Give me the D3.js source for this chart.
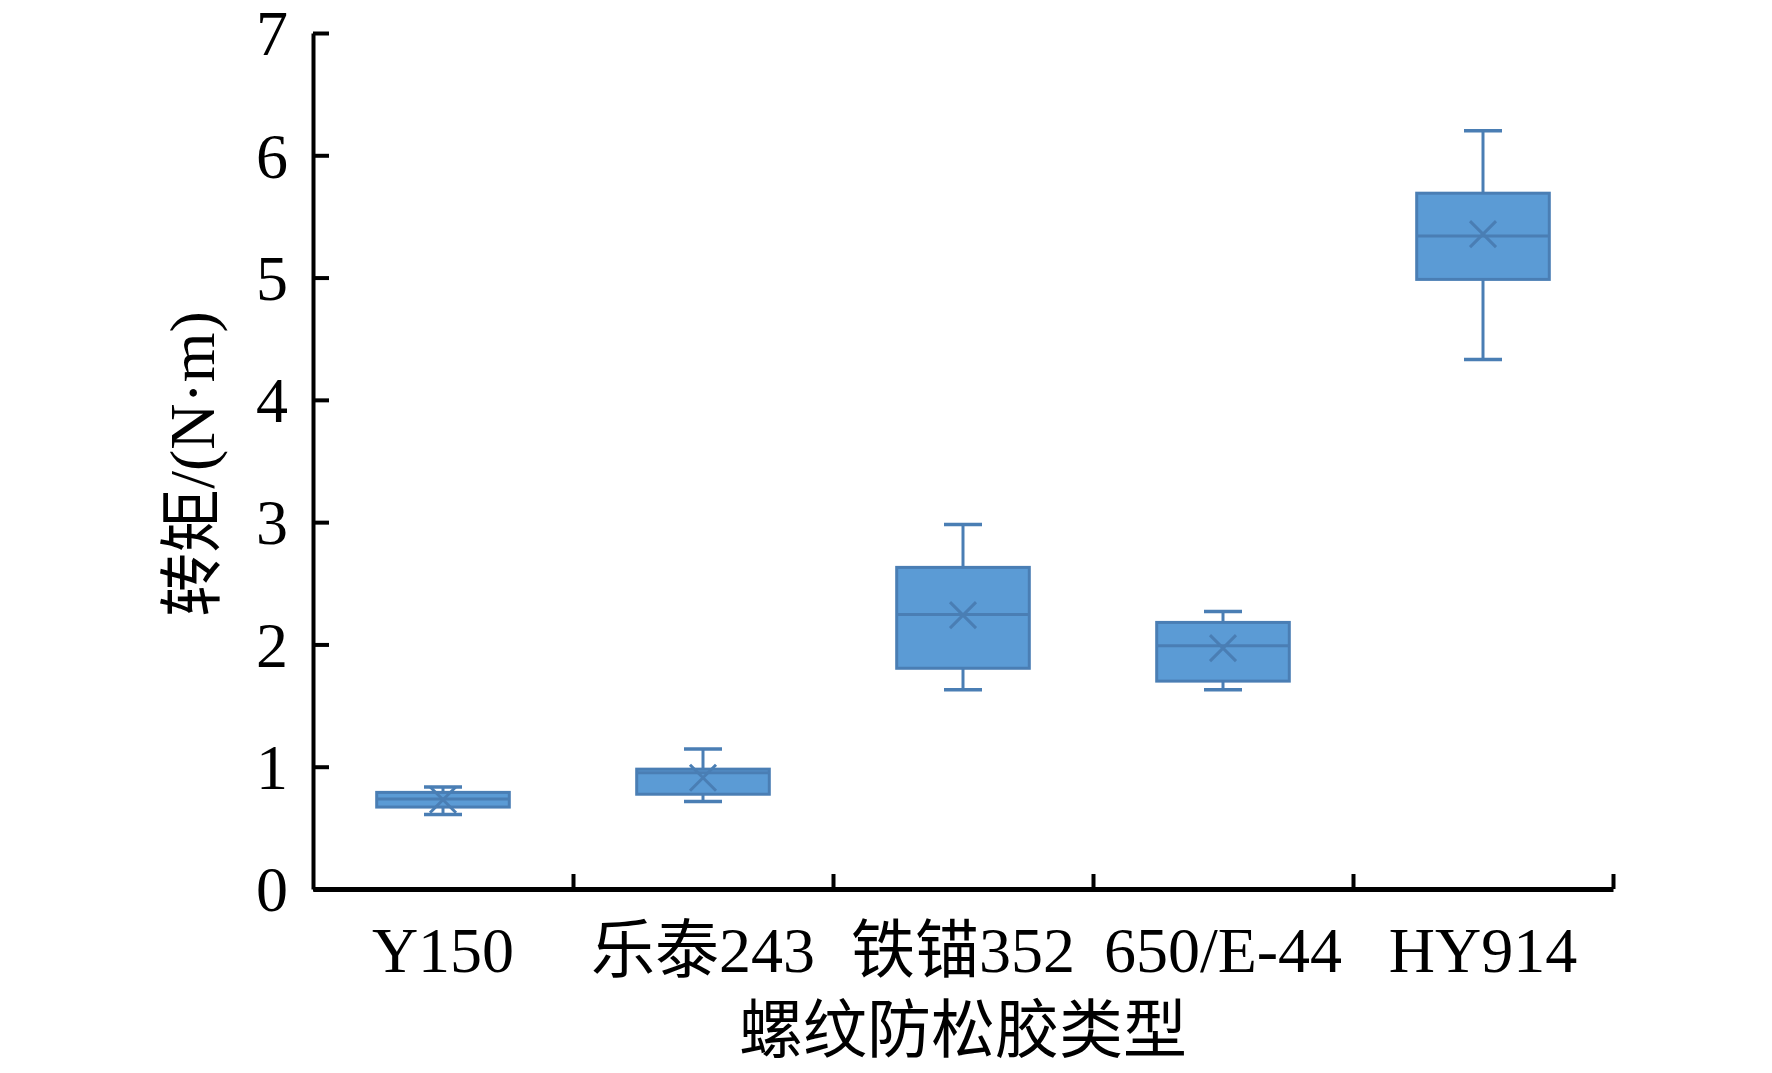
<!DOCTYPE html>
<html>
<head>
<meta charset="utf-8">
<script src="https://cdn.jsdelivr.net/npm/d3@7"></script>
<style>
  body { margin: 0; background: #fff; }
  text { font-family: "Liberation Serif", "Times New Roman", "Noto Sans CJK SC", serif; fill: #000; }
</style>
</head>
<body>
<div id="chart"></div>
<script>
// Values (N·m)
const categories = ["Y150", "乐泰243", "铁锚352", "650/E-44", "HY914"];
const whiskerLow = [0.61, 0.715, 1.63, 1.63, 4.33];
const q1 = [0.67, 0.775, 1.805, 1.70, 4.985];
const median = [0.735, 0.95, 2.245, 1.99, 5.34];
const q3 = [0.79, 0.98, 2.63, 2.18, 5.69];
const whiskerHigh = [0.835, 1.145, 2.98, 2.27, 6.2];
const mean = [0.73, 0.91, 2.24, 1.97, 5.355];
const yTicks = [0, 1, 2, 3, 4, 5, 6, 7];

const width = 1772;
const height = 1073;
const margin = { top: 33, right: 159, bottom: 184, left: 313 };

const boxes = categories.map((c, i) => ({
  name: c, lo: whiskerLow[i], q1: q1[i], med: median[i],
  q3: q3[i], hi: whiskerHigh[i], mean: mean[i]
}));

const svg = d3.select("#chart")
  .append("svg")
  .attr("width", width)
  .attr("height", height);

const x = d3.scaleBand()
  .domain(categories)
  .range([margin.left, width - margin.right]);

const y = d3.scaleLinear()
  .domain([0, 7])
  .range([height - margin.bottom, margin.top]);

const fill = "#5b9bd5";
const edge = "#4a7eb4";
const boxW = x.bandwidth() * 0.51;
const capW = 38;

// Boxes
const g = svg.append("g");
const box = g.selectAll("g.box")
  .data(boxes)
  .enter()
  .append("g")
  .attr("class", "box")
  .attr("transform", d => `translate(${x(d.name) + x.bandwidth() / 2},0)`);

// whiskers
box.append("line")
  .attr("x1", 0).attr("x2", 0)
  .attr("y1", d => y(d.hi)).attr("y2", d => y(d.q3))
  .attr("stroke", edge).attr("stroke-width", 3);
box.append("line")
  .attr("x1", 0).attr("x2", 0)
  .attr("y1", d => y(d.q1)).attr("y2", d => y(d.lo))
  .attr("stroke", edge).attr("stroke-width", 3);
box.append("line")
  .attr("x1", -capW / 2).attr("x2", capW / 2)
  .attr("y1", d => y(d.hi)).attr("y2", d => y(d.hi))
  .attr("stroke", edge).attr("stroke-width", 3.5);
box.append("line")
  .attr("x1", -capW / 2).attr("x2", capW / 2)
  .attr("y1", d => y(d.lo)).attr("y2", d => y(d.lo))
  .attr("stroke", edge).attr("stroke-width", 3.5);

// box body
box.append("rect")
  .attr("x", -boxW / 2)
  .attr("width", boxW)
  .attr("y", d => y(d.q3))
  .attr("height", d => y(d.q1) - y(d.q3))
  .attr("fill", fill)
  .attr("stroke", edge)
  .attr("stroke-width", 3);

// median
box.append("line")
  .attr("x1", -boxW / 2).attr("x2", boxW / 2)
  .attr("y1", d => y(d.med)).attr("y2", d => y(d.med))
  .attr("stroke", edge).attr("stroke-width", 3);

// mean marker (x)
const m = 13;
box.append("path")
  .attr("d", d => {
    const cy = y(d.mean);
    return `M${-m},${cy - m}L${m},${cy + m}M${-m},${cy + m}L${m},${cy - m}`;
  })
  .attr("stroke", edge)
  .attr("stroke-width", 3)
  .attr("fill", "none");

// Y axis
const yAxis = svg.append("g")
  .attr("transform", `translate(${margin.left},0)`)
  .call(d3.axisLeft(y).tickValues(yTicks).tickFormat(d3.format("d"))
    .tickSize(-16).tickSizeOuter(0).tickPadding(25));
yAxis.selectAll("line").attr("stroke", "#000").attr("stroke-width", 4);
yAxis.select(".domain").attr("stroke", "#000").attr("stroke-width", 4);
yAxis.selectAll("text").attr("font-size", "64px").attr("dy", "0.34em")
  .style("font-family", "'Liberation Serif', serif");

// X axis: ticks at band boundaries
const xb = d3.scaleLinear().domain([0, categories.length]).range(x.range());
const xAxis = svg.append("g")
  .attr("transform", `translate(0,${height - margin.bottom})`)
  .call(d3.axisBottom(xb).ticks(categories.length).tickSize(-15).tickSizeOuter(0).tickFormat(""));
xAxis.selectAll("line").attr("stroke", "#000").attr("stroke-width", 4);
xAxis.select(".domain").attr("stroke", "#000").attr("stroke-width", 5);
xAxis.selectAll(".tick").filter(d => d === 0).remove();

// Category labels
svg.append("g")
  .attr("transform", `translate(0,${height - margin.bottom})`)
  .call(d3.axisBottom(x).tickSize(0).tickPadding(0))
  .call(s => s.select(".domain").remove())
  .selectAll("text")
  .attr("font-size", "64px")
  .attr("dy", null)
  .attr("y", 83);

// Axis titles
svg.append("text")
  .attr("x", (margin.left + width - margin.right) / 2)
  .attr("y", 1052)
  .attr("text-anchor", "middle")
  .attr("font-size", "64px")
  .text("螺纹防松胶类型");

svg.append("text")
  .attr("transform", `translate(214,${(margin.top + height - margin.bottom) / 2 + 3}) rotate(-90)`)
  .attr("text-anchor", "middle")
  .attr("font-size", "64px")
  .text("转矩/(N·m)");
</script>
</body>
</html>
